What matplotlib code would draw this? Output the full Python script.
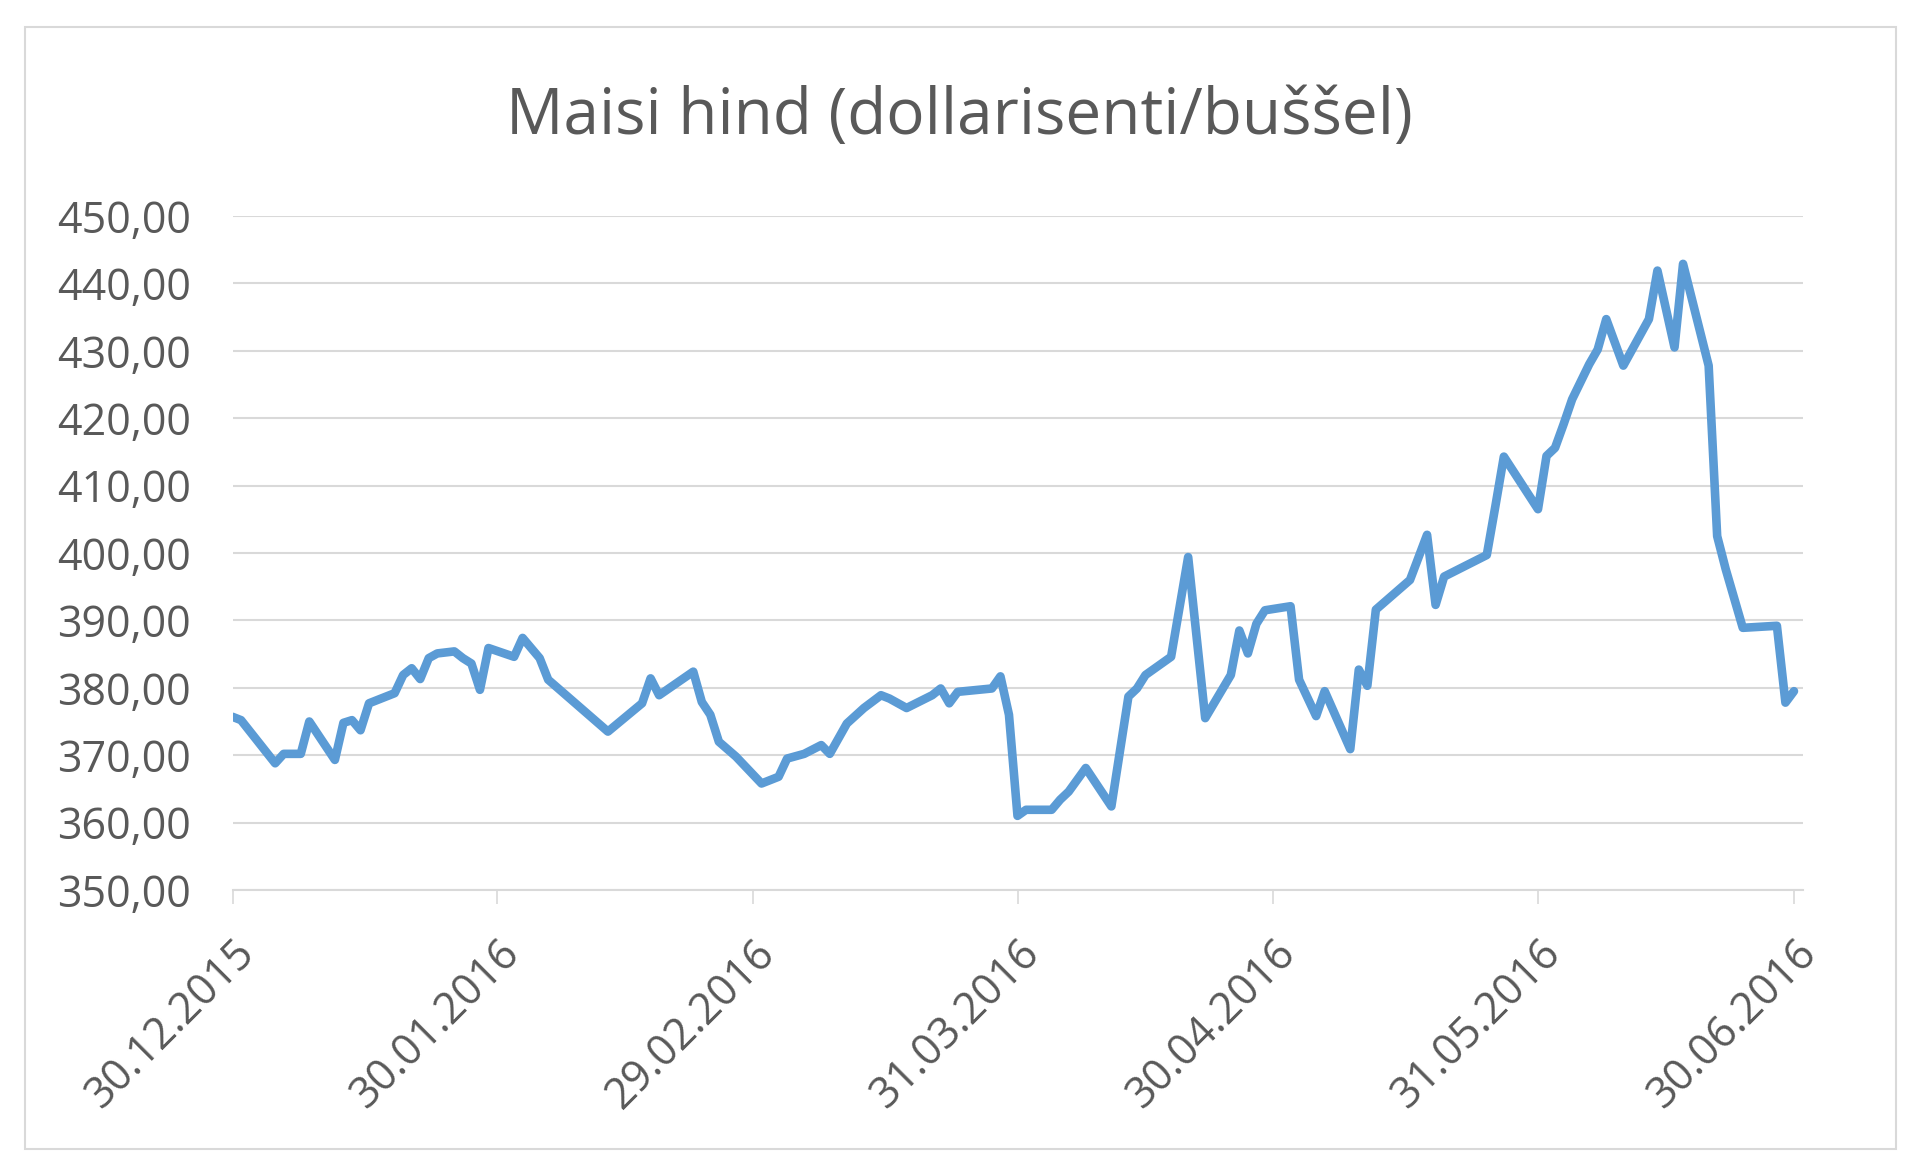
import pandas as pd
import numpy as np
import matplotlib
matplotlib.use("Agg")
import matplotlib.pyplot as plt
import matplotlib.dates as mdates
from matplotlib.patches import Rectangle
from matplotlib.ticker import FuncFormatter

plt.rcParams["font.family"] = ["Open Sans", "DejaVu Sans"]

dates = [
    "2015-12-30", "2015-12-31", "2016-01-04", "2016-01-05", "2016-01-07", "2016-01-08",
    "2016-01-11", "2016-01-12", "2016-01-13", "2016-01-14", "2016-01-15", "2016-01-18",
    "2016-01-19", "2016-01-20", "2016-01-21", "2016-01-22", "2016-01-23", "2016-01-25",
    "2016-01-26", "2016-01-27", "2016-01-28", "2016-01-29", "2016-02-01", "2016-02-02",
    "2016-02-04", "2016-02-05", "2016-02-12", "2016-02-16", "2016-02-17", "2016-02-18",
    "2016-02-22", "2016-02-23", "2016-02-24", "2016-02-25", "2016-02-27", "2016-03-01",
    "2016-03-03", "2016-03-04", "2016-03-06", "2016-03-08", "2016-03-09", "2016-03-11",
    "2016-03-13", "2016-03-15", "2016-03-16", "2016-03-18", "2016-03-21", "2016-03-22",
    "2016-03-23", "2016-03-24", "2016-03-28", "2016-03-29", "2016-03-30", "2016-03-31",
    "2016-04-01", "2016-04-04", "2016-04-05", "2016-04-06", "2016-04-08", "2016-04-11",
    "2016-04-13", "2016-04-14", "2016-04-15", "2016-04-18", "2016-04-20", "2016-04-22",
    "2016-04-25", "2016-04-26", "2016-04-27", "2016-04-28", "2016-04-29", "2016-05-02",
    "2016-05-03", "2016-05-05", "2016-05-06", "2016-05-09", "2016-05-10", "2016-05-11",
    "2016-05-12", "2016-05-16", "2016-05-18", "2016-05-19", "2016-05-20", "2016-05-25",
    "2016-05-26", "2016-05-27", "2016-05-31", "2016-06-01", "2016-06-02", "2016-06-03",
    "2016-06-04", "2016-06-06", "2016-06-07", "2016-06-08", "2016-06-10", "2016-06-13",
    "2016-06-14", "2016-06-16", "2016-06-17", "2016-06-20", "2016-06-21", "2016-06-22",
    "2016-06-24", "2016-06-28", "2016-06-29", "2016-06-30",
]

prices = [
    375.7, 375.2, 368.8, 370.2, 370.2, 375.0,
    369.3, 374.8, 375.2, 373.7, 377.7, 379.2,
    381.9, 382.9, 381.3, 384.4, 385.1, 385.4,
    384.4, 383.6, 379.7, 385.9, 384.6, 387.4,
    384.4, 381.2, 373.5, 377.7, 381.4, 378.9,
    382.4, 377.9, 376.0, 372.0, 369.8, 365.8,
    366.8, 369.5, 370.2, 371.5, 370.2, 374.7,
    377.0, 378.9, 378.4, 377.0, 378.9, 379.9,
    377.7, 379.4, 379.9, 381.7, 376.0, 361.0,
    361.9, 361.9, 363.4, 364.6, 368.1, 362.4,
    378.7, 379.9, 381.9, 384.6, 399.4, 375.5,
    381.9, 388.5, 385.1, 389.5, 391.5, 392.1,
    381.2, 375.8, 379.5, 370.9, 382.7, 380.3,
    391.6, 396.0, 402.7, 392.3, 396.5, 399.7,
    406.9, 414.3, 406.5, 414.4, 415.6, 419.1,
    422.8, 428.0, 430.2, 434.7, 427.8, 434.7,
    441.9, 430.5, 442.9, 427.8, 402.5, 397.6,
    388.9, 389.2, 377.8, 379.5,
]

tick_dates = ["2015-12-30", "2016-01-30", "2016-02-29", "2016-03-31",
              "2016-04-30", "2016-05-31", "2016-06-30"]

title = "Maisi hind (dollarisenti/buššel)"

df = pd.DataFrame({"Date": pd.to_datetime(dates), "Price": prices})

W, H = 1920, 1175
fig = plt.figure(figsize=(W / 100, H / 100), dpi=100)
fig.patch.set_facecolor("white")

# outer chart border
fig.patches.append(Rectangle((24.5 / W, 26.5 / H), 1871 / W, 1122 / H,
                             transform=fig.transFigure, fill=False,
                             edgecolor="#D9D9D9", linewidth=1.5))

ax = fig.add_axes([232.5 / W, 1 - 890 / H, 1570 / W, 674 / H])

ax.plot(df["Date"], df["Price"], color="#5B9BD5", linewidth=6.2,
        solid_joinstyle="round", solid_capstyle="round", zorder=3)

ax.set_ylim(350, 450)
ax.set_yticks(np.arange(350, 451, 10))
ax.yaxis.set_major_formatter(FuncFormatter(lambda v, p: f"{v:.2f}".replace(".", ",")))
ax.set_xlim(pd.Timestamp("2015-12-30"), pd.Timestamp("2016-07-01"))
ax.set_xticks(pd.to_datetime(tick_dates))
ax.xaxis.set_major_formatter(mdates.DateFormatter("%d.%m.%Y"))

ax.grid(axis="y", color="#D9D9D9", linewidth=1.5)
ax.set_axisbelow(True)
for side in ["left", "top", "right"]:
    ax.spines[side].set_visible(False)
ax.spines["bottom"].set_color("#D9D9D9")
ax.spines["bottom"].set_linewidth(1.5)

ax.tick_params(axis="y", length=0, pad=30, labelsize=31, labelcolor="#595959")
ax.tick_params(axis="x", length=10, width=1.2, color="#D9D9D9", pad=20,
               labelsize=31, labelcolor="#595959")
for lbl in ax.get_xticklabels():
    lbl.set_rotation(45)
    lbl.set_ha("right")
    lbl.set_va("top")
    lbl.set_rotation_mode("anchor")

fig.text(0.4995, 1 - 134 / H, title, ha="center", va="baseline",
         fontsize=46, color="#595959")

fig.savefig("out.png", dpi=100)
